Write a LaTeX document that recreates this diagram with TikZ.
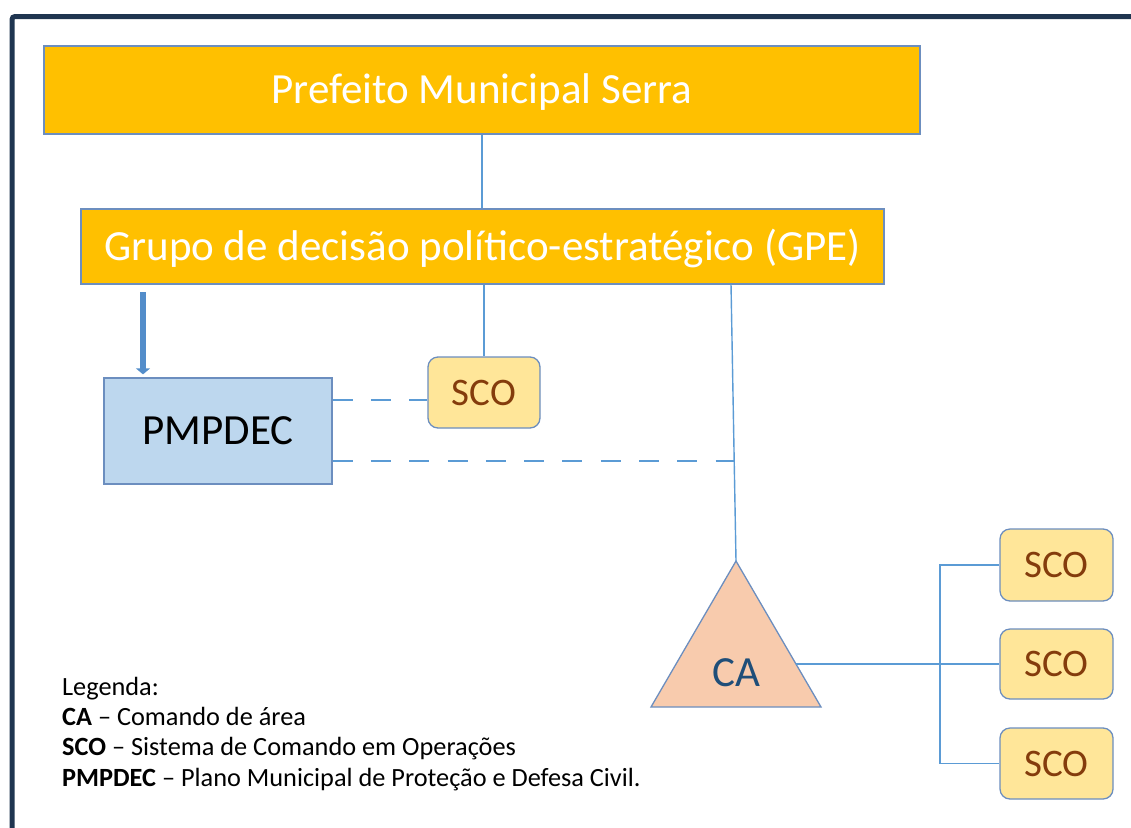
\documentclass[tikz,border=0pt]{standalone}
\usepackage{fontspec}
\setmainfont{Carlito}
\usetikzlibrary{arrows.meta,calc}
\definecolor{gold}{HTML}{FFC000}
\definecolor{frameblue}{HTML}{1F3550}
\definecolor{linkblue}{HTML}{5B9BD5}
\definecolor{arrowblue}{HTML}{538DCA}
\definecolor{edgeblue}{HTML}{6C8EBF}
\definecolor{scofill}{HTML}{FFE699}
\definecolor{scotext}{HTML}{843C0C}
\definecolor{pmpfill}{HTML}{BDD7EE}
\definecolor{trifill}{HTML}{F8CBAD}
\definecolor{catext}{HTML}{1F4E79}
\tikzset{
  capcenter/.style={text height=#1, text depth=0pt},
  topbox/.style={draw=edgeblue, line width=1.3pt, fill=gold, inner sep=0pt, text=white, capcenter=27.7pt, font=\fontsize{43}{51}\selectfont},
  scobox/.style={draw=edgeblue, line width=1.3pt, fill=scofill, rounded corners=10pt, inner sep=0pt, minimum width=113pt, text=scotext, capcenter=25.1pt, font=\fontsize{39}{46}\selectfont},
  pmpbox/.style={draw=edgeblue, line width=1.3pt, fill=pmpfill, inner sep=0pt, text=black, capcenter=27.7pt, font=\fontsize{43}{51}\selectfont},
  link/.style={draw=linkblue, line width=1.4pt},
  dashlink/.style={link, dash pattern=on 20pt off 18.3pt},
  legend/.style={anchor=base west, inner sep=0pt, font=\fontsize{26.3}{31}\selectfont},
}
\begin{document}
\begin{tikzpicture}[x=1pt,y=-1pt]
\useasboundingbox (0,0) rectangle (1131,827);
\clip (0,0) rectangle (1131,827);
% frame
\draw[frameblue, line width=5pt, rounded corners=3pt] (12,16.5) rectangle (1160,860);
% boxes
\node[topbox, minimum width=876pt, minimum height=88pt] (pref) at (482,90) {Prefeito Municipal Serra};
\node[topbox, minimum width=803pt, minimum height=75pt] (gpe) at (482.5,246.5) {Grupo de decisão político-estratégico (GPE)};
\node[scobox, minimum height=71pt, minimum width=112pt] (sco1) at (484,392.5) {SCO};
\node[pmpbox, minimum width=228pt, minimum height=106pt] (pmp) at (218,431) {PMPDEC};
\node[scobox, minimum height=72pt] (sco2) at (1056.5,565) {SCO};
\node[scobox, minimum height=70pt] (sco3) at (1056.5,664) {SCO};
\node[scobox, minimum height=71pt] (sco4) at (1056.5,763.5) {SCO};
% triangle CA
\coordinate (apex) at (736,561);
\coordinate (bl) at (651,707);
\coordinate (br) at (821,707);
\filldraw[fill=trifill, draw=edgeblue, line width=1.3pt] (apex) -- (br) -- (bl) -- cycle;
\node[text=catext, font=\fontsize{43}{51}\selectfont, inner sep=0pt, capcenter=27.7pt] (ca) at (736,672.5) {CA};
\coordinate (caright) at (796,664);
% connectors
\draw[link] (pref.south) -- (pref.south |- gpe.north);
\draw[link] (sco1.north) -- (sco1.north |- gpe.south);
\coordinate (gpeout) at (731,284);
\draw[link] (gpeout) -- (apex);
\coordinate (dashone) at (380,400);
\coordinate (dashend) at (734.5,461);
\draw[dashlink] (pmp.east |- dashone) -- (sco1.west |- dashone);
\draw[dashlink] (pmp.east |- dashend) -- (dashend);
\coordinate (bus) at (940,664);
\draw[link] (caright) -- (sco3.west);
\draw[link] (sco2.west) -- (bus |- sco2.west) -- (bus |- sco4.west) -- (sco4.west);
% arrow
\coordinate (arrS) at (143,292);
\draw[arrowblue, line width=6pt, -{Triangle[width=14pt,length=6pt]}] (arrS) -- ($(arrS |- pmp.north)+(0,-3)$);
% legend
\node[legend] (l1) at (62,695) {Legenda:};
\node[legend] (l2) at (62,725.3) {\textbf{CA} – Comando de área};
\node[legend] (l3) at (62,755.6) {\textbf{SCO} – Sistema de Comando em Operações};
\node[legend] (l4) at (62,786) {\textbf{PMPDEC} – Plano Municipal de Proteção e Defesa Civil.};
\end{tikzpicture}
\end{document}
